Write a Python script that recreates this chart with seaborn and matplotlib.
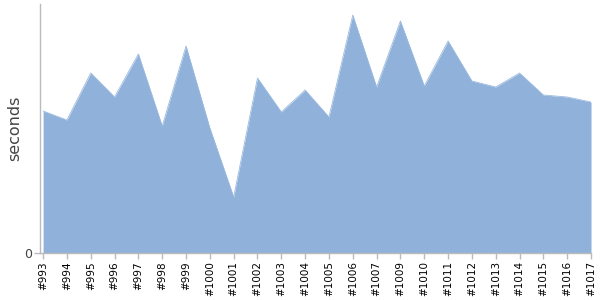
import matplotlib
matplotlib.use("Agg")
import matplotlib.pyplot as plt
import seaborn as sns
import numpy as np

builds = ["#993", "#994", "#995", "#996", "#997", "#998", "#999", "#1000",
          "#1001", "#1002", "#1003", "#1004", "#1005", "#1006", "#1007",
          "#1009", "#1010", "#1011", "#1012", "#1013", "#1014", "#1015",
          "#1016", "#1017"]
seconds = [1.42, 1.33, 1.80, 1.56, 1.99, 1.27, 2.07, 1.25, 0.56, 1.75,
           1.41, 1.63, 1.36, 2.38, 1.66, 2.32, 1.67, 2.12, 1.72, 1.66,
           1.80, 1.58, 1.56, 1.51]

sns.set_style("white")
plt.rcParams['font.family'] = ['DejaVu Sans']

fig = plt.figure(figsize=(6, 3), dpi=100)
ax = fig.add_axes([40/600, 1-253/300, 551/600, 249/300])

x = np.arange(len(builds))
ax.fill_between(x, 0, seconds, color="#8fb1da", linewidth=0)
sns.lineplot(x=x, y=seconds, ax=ax, color="#9bbade", linewidth=0.6)

ax.set_xlim(-0.13, len(builds) - 1)
ax.set_ylim(0, 2.49)
ax.set_xticks(x)
ax.set_xticklabels(builds, rotation=90, fontsize=7.5, color="black")
ax.set_yticks([0])
ax.set_yticklabels(["0"], fontsize=9, color="#444444")
ax.set_ylabel("seconds", fontsize=11.5, color="#444444", labelpad=1)

for s in ["top", "right"]:
    ax.spines[s].set_visible(False)
for s in ["left", "bottom"]:
    ax.spines[s].set_color("#bbbbbb")
    ax.spines[s].set_linewidth(1)
ax.tick_params(axis="x", direction="out", length=4, width=1, color="#bbbbbb", pad=2, bottom=True)
ax.tick_params(axis="y", direction="out", length=4, width=1, color="#bbbbbb", pad=2, left=True)

fig.savefig("out.png", dpi=100)
